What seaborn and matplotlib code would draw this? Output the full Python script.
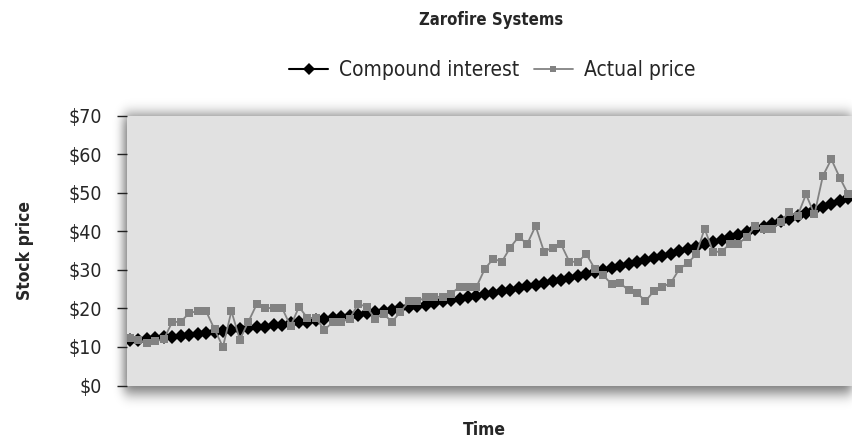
import os
import numpy as np
import pandas as pd
import matplotlib
matplotlib.use("Agg")
import matplotlib.pyplot as plt
from matplotlib import font_manager
import seaborn as sns

# values (one point per period)
compound_interest = [
    11.7, 11.9, 12.1, 12.3, 12.5, 12.7, 12.9, 13.2, 13.4, 13.6,
    13.8, 14.1, 14.3, 14.6, 14.8, 15.1, 15.3, 15.6, 15.8, 16.1,
    16.4, 16.6, 16.9, 17.2, 17.5, 17.8, 18.1, 18.4, 18.7, 19.0,
    19.4, 19.7, 20.0, 20.3, 20.7, 21.0, 21.4, 21.8, 22.1, 22.5,
    22.9, 23.3, 23.7, 24.1, 24.5, 24.9, 25.3, 25.7, 26.2, 26.6,
    27.1, 27.5, 28.0, 28.5, 28.9, 29.4, 29.9, 30.4, 31.0, 31.5,
    32.0, 32.5, 33.1, 33.7, 34.2, 34.8, 35.4, 36.0, 36.6, 37.2,
    37.8, 38.5, 39.1, 39.8, 40.5, 41.2, 41.9, 42.6, 43.3, 44.0,
    44.8, 45.5, 46.3, 47.1, 47.9, 48.7,
]
actual_price = [
    12.4, 11.9, 11.0, 11.5, 12.0, 16.5, 16.5, 18.8, 19.3, 19.3,
    14.6, 10.0, 19.3, 11.9, 16.5, 21.1, 20.1, 20.1, 20.1, 15.4,
    20.4, 17.5, 17.5, 14.4, 16.5, 16.5, 17.3, 21.2, 20.4, 17.3,
    18.6, 16.5, 19.1, 21.8, 21.8, 22.9, 23.0, 23.0, 23.8, 25.6,
    25.6, 25.6, 30.3, 32.9, 32.1, 35.8, 38.6, 36.7, 41.4, 34.7,
    35.8, 36.7, 32.1, 32.1, 34.1, 30.3, 28.6, 26.3, 26.6, 24.7,
    24.0, 21.9, 24.5, 25.6, 26.6, 30.2, 31.8, 34.0, 40.7, 34.7,
    34.7, 36.8, 36.8, 38.6, 41.3, 40.5, 40.5, 42.5, 45.0, 44.0,
    49.6, 44.4, 54.4, 58.7, 53.9, 49.6,
]
y_ticks = [0, 10, 20, 30, 40, 50, 60, 70]
y_tick_labels = ["$0", "$10", "$20", "$30", "$40", "$50", "$60", "$70"]

df = pd.DataFrame({
    "Time": np.arange(len(actual_price)),
    "Compound interest": compound_interest,
    "Actual price": actual_price,
})

sns.set_style("white")

# look for a condensed face; otherwise use Roboto
def find_face(keys):
    for f in font_manager.fontManager.ttflist:
        base = os.path.basename(f.fname).lower()
        if any(k in base for k in keys):
            return f.fname
    return None

reg_file = find_face(["robotocondensed-regular", "dejavusanscondensed.ttf",
                      "liberationsansnarrow-regular", "opensans_condensed-regular",
                      "opensans-condensedregular"])
bold_file = find_face(["robotocondensed-bold.", "dejavusanscondensed-bold.ttf",
                       "liberationsansnarrow-bold.", "opensans_condensed-bold.",
                       "opensans-condensedbold"])
if reg_file:
    f_reg = font_manager.FontProperties(fname=reg_file)
    f_bold = font_manager.FontProperties(fname=bold_file or reg_file)
    if not bold_file:
        f_bold.set_weight("bold")
    tick_fs, leg_fs, title_fs, lab_fs = 14, 15, 12, 12.5
else:
    f_reg = font_manager.FontProperties(family=["Roboto", "DejaVu Sans"])
    f_bold = font_manager.FontProperties(family=["Roboto", "DejaVu Sans"], weight="bold")
    tick_fs, leg_fs, title_fs, lab_fs = 13, 14.5, 12, 12
plt.rcParams["font.family"] = ["Roboto", "DejaVu Sans"]

W, H = 852, 443
fig = plt.figure(figsize=(W / 100, H / 100), dpi=100)

# soft drop shadow behind the plot area
def soft_edge(n, lo, hi, sigma):
    box = np.zeros(n)
    box[max(lo, 0):min(hi, n)] = 1.0
    k = np.arange(-3 * sigma, 3 * sigma + 1)
    g = np.exp(-0.5 * (k / sigma) ** 2)
    return np.convolve(box, g / g.sum(), mode="same")

sx = soft_edge(W, 124, 900, 5)
sy = soft_edge(H, 115, 393, 7)
shadow = np.zeros((H, W, 4))
shadow[..., 3] = 0.55 * sy[:, None] * sx[None, :]
bg = fig.add_axes([0, 0, 1, 1])
bg.imshow(shadow, extent=(0, W, H, 0), aspect="auto")
bg.axis("off")

left, bottom, top = 127, 385.5, 115.7
ax = fig.add_axes([left / W, (H - bottom) / H, (W - left) / W, (bottom - top) / H])
ax.set_facecolor("#e1e1e1")

sns.lineplot(data=df, x="Time", y="Compound interest", ax=ax, color="black",
             marker="D", markersize=7.5, markeredgewidth=0, linewidth=1.5,
             label="Compound interest")
sns.lineplot(data=df, x="Time", y="Actual price", ax=ax, color="#828282",
             marker="s", markersize=5.5, markeredgewidth=0, linewidth=1.3,
             label="Actual price")

step = (W - left) / 8.45
ax.set_xlim(-3 / 8.45, -3 / 8.45 + step)
ax.set_ylim(0, 70)
ax.set_xticks([])
ax.set_yticks(y_ticks)
ax.set_yticklabels(y_tick_labels, fontproperties=f_reg, fontsize=tick_fs)
ax.tick_params(axis="y", length=7.2, width=1.0, color="#222222", pad=11, left=True)
for s in ax.spines.values():
    s.set_visible(False)
ax.set_xlabel("")
ax.set_ylabel("")

handles, labels = ax.get_legend_handles_labels()
ax.legend_.remove()
leg_prop = f_reg.copy()
leg_prop.set_size(leg_fs)
fig.legend(handles, labels, loc="center", bbox_to_anchor=(492 / W, 1 - 70 / H),
           ncol=2, frameon=False, prop=leg_prop, handlelength=1.9,
           handletextpad=0.5, columnspacing=0.7, markerscale=0.8)

fig.text(491 / W, 1 - 20 / H, "Zarofire Systems", ha="center", va="center",
         fontproperties=f_bold, fontsize=title_fs)
fig.text(484 / W, 1 - 430 / H, "Time", ha="center", va="center",
         fontproperties=f_bold, fontsize=lab_fs)
fig.text(25 / W, 1 - 250 / H, "Stock price", ha="center", va="center",
         rotation=90, fontproperties=f_bold, fontsize=lab_fs)

fig.savefig("out.png", dpi=100)
